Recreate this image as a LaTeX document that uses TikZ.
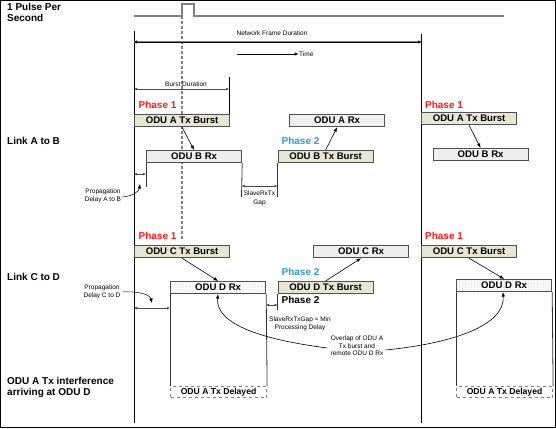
\documentclass[tikz,border=0pt]{standalone}
\usepackage{fontspec}
\setmainfont{Liberation Sans}
\usetikzlibrary{arrows.meta,patterns}
\definecolor{tanfill}{HTML}{E6E6D4}
\definecolor{rxfill}{HTML}{EEEEEE}
\definecolor{boxline}{HTML}{505050}
\definecolor{phred}{HTML}{FF1A1A}
\definecolor{phblue}{HTML}{3399CC}
\definecolor{tgray}{HTML}{808080}
\begin{document}
\begin{tikzpicture}[x=1pt,y=-1pt,
  lbl/.style={font=\fontsize{10}{11.5}\selectfont\bfseries, align=left, inner sep=0pt},
  small/.style={font=\fontsize{6.5}{7.5}\selectfont, align=center, inner sep=0pt, text=black},
  phaseA/.style={font=\fontsize{10}{11}\selectfont\bfseries, text=phred, inner sep=0pt},
  phaseB/.style={font=\fontsize{10}{11}\selectfont\bfseries, text=phblue, inner sep=0pt},
  boxbase/.style={draw=boxline, line width=1.2pt, inner sep=0pt, minimum width=95pt, minimum height=12pt, anchor=north west, font=\fontsize{9.6}{10}\selectfont\bfseries},
  txbox/.style={boxbase, fill=tanfill},
  rxbox/.style={boxbase, fill=rxfill},
  dotbox/.style={boxbase, preaction={fill=white}, pattern=dots, pattern color=gray!80},
  delbox/.style={draw=gray, dashed, line width=1.1pt, inner sep=0pt, minimum width=96pt, minimum height=11pt, anchor=north west, font=\fontsize{8.6}{9}\selectfont\bfseries, text=black},
  arr/.style={-{Latex[length=4.5pt,width=3.5pt]}, line width=0.6pt, black},
  dbl/.style={{Latex[length=3pt,width=3pt]}-{Latex[length=3pt,width=3pt]}, line width=0.9pt, black!70},
  edge/.style={line width=0.8pt, black!80}
]
\useasboundingbox (0,0) rectangle (556,428);
\draw[line width=1.4pt] (0.7,0.7) rectangle (555.3,427.3);

% pulse line
\draw[tgray, line width=1.2pt] (134,16) -- (182,16) -- (182,4) -- (194,4) -- (194,16) -- (504,16);
\coordinate (d0) at (182,16);
\coordinate (d1) at (182,240);
\draw[tgray, line width=1.1pt, dash pattern=on 3pt off 2pt] (d0) -- (d1);

% frame boundaries
\coordinate (f1t) at (134,31);
\coordinate (f1b) at (134,423);
\coordinate (f2t) at (421,34);
\coordinate (f2b) at (421,423);
\draw[line width=0.9pt] (f1t) -- (f1b);
\draw[line width=0.9pt] (f2t) -- (f2b);

% left labels
\node[lbl, anchor=north west] (pps) at (7,3) {1 Pulse Per\\Second};
\node[lbl, anchor=west] (lab) at (7,141) {Link A to B};
\node[lbl, anchor=west] (lcd) at (7,277) {Link C to D};
\node[lbl, anchor=west, font=\fontsize{10}{11}\selectfont\bfseries] (intf) at (7,387.5) {ODU A Tx interference\\arriving at ODU D};

% network frame duration
\node[small] (nfd) at (272,33) {Network Frame Duration};
\coordinate (n1) at (134,42);
\coordinate (n2) at (421,42);
\draw[tgray, line width=1.8pt] (n1) -- (n2);
\draw[{Latex[length=3pt,width=3.5pt]}-{Latex[length=3pt,width=3.5pt]}, line width=0.5pt] (n1) -- (n2);

% time arrow
\node[small, anchor=west] (time) at (299,54) {Time};
\coordinate (t0) at (237,54);
\draw[arr, line width=0.8pt] (t0) -- (time.west);

% burst duration
\coordinate (bd1) at (229,77);
\coordinate (bd2) at (229,114);
\draw[line width=0.8pt] (bd1) -- (bd2);
\coordinate (bda) at (134,89);
\coordinate (bdb) at (229,89);
\draw[dbl] (bda) -- (bdb);
\node[small] (bdl) at (186,84.5) {Burst Duration};

% ===== Link A to B (frame 1)
\node[phaseA] (p1a) at (157.5,105) {Phase 1};
\node[txbox] (atx) at (134,114) {ODU A Tx Burst};
\node[rxbox] (brx) at (146,150) {ODU B Rx};
\draw[arr] (atx.south -| d0) -- (brx.north);
\coordinate (brxl) at (146,187);
\coordinate (brxr) at (241.5,197);
\draw[edge] (brx.south west) -- (brxl);
\draw[edge] (brx.south east) -- (brxr);
\coordinate (pa1) at (134,174);
\coordinate (pa2) at (146,174);
\draw[dbl] (pa1) -- (pa2);
\node[small, font=\fontsize{6.5}{8}\selectfont] (pal) at (103,196) {Propagation\\Delay A to B};
\coordinate (pae) at (140,184);
\draw[arr, line width=0.5pt] (pal.east) ++(1,1) .. controls (134,196) and (139,191) .. (pae);

\node[txbox] (btx) at (277.5,150) {ODU B Tx Burst};
\node[phaseB] (p2a) at (300.5,141) {Phase 2};
\node[rxbox] (arx) at (289,114) {ODU A Rx};
\draw[arr] (btx.north) -- (arx.south);
\coordinate (btxl) at (277.5,197);
\draw[edge] (btx.south west) -- (btxl);
\coordinate (g1) at (241.5,186);
\coordinate (g2) at (277.5,186);
\draw[dbl] (g1) -- (g2);
\node[small, font=\fontsize{6.5}{8.5}\selectfont] (gapl) at (259.5,198.5) {SlaveRxTx\\Gap};

% ===== Link A to B (frame 2)
\node[phaseA] (p1b) at (444,105) {Phase 1};
\node[txbox] (atx2) at (421,112) {ODU A Tx Burst};
\node[rxbox] (brx2) at (432.5,148) {ODU B Rx};
\draw[arr] (atx2.south) -- (brx2.north);

% ===== Link C to D (frame 1)
\node[phaseA] (p1c) at (157.5,236) {Phase 1};
\node[txbox] (ctx) at (134,245) {ODU C Tx Burst};
\node[dotbox] (drx) at (170,281) {ODU D Rx};
\draw[arr] (ctx.south) -- (drx.north);
\node[delbox] (adel) at (170,386) {ODU A Tx Delayed};
\draw[edge] (drx.south west) -- (adel.north west);
\draw[edge] (drx.south east) -- (adel.north east);
\coordinate (pc1) at (134,308);
\coordinate (pc2) at (170,308);
\draw[dbl] (pc1) -- (pc2);
\node[small] (pcl) at (102,292) {Propagation\\Delay C to D};
\coordinate (pce) at (152,303);
\draw[arr, line width=0.5pt] (pcl.east) ++(2,0) .. controls (140,291) and (150,295) .. (pce);

\node[txbox] (dtx) at (277.5,281) {ODU D Tx Burst};
\node[phaseB] (p2c) at (300.5,272) {Phase 2};
\node[lbl, anchor=center] (p2d) at (300.5,300) {Phase 2};
\node[rxbox] (crx) at (313,245) {ODU C Rx};
\draw[arr] (dtx.north) -- (crx.south);
\coordinate (dtxl) at (277.5,310);
\draw[edge] (dtx.south west) -- (dtxl);
\coordinate (h1) at (266,305);
\coordinate (h2) at (277.5,305);
\draw[dbl] (h1) -- (h2);
\node[small] (mpd) at (300,324) {SlaveRxTxGap = Min\\Processing Delay};

% overlap label and curves
\node[small] (ovl) at (357,346) {Overlap of ODU A\\Tx burst and\\remote ODU D Rx};
\coordinate (ov1) at (218,294);
\coordinate (ov2) at (503,292);
\draw[arr] (ovl.west) ++(-3,2) .. controls (265,340) and (215,325) .. (ov1);
\draw[arr] (ovl.east) ++(2,4) .. controls (455,343) and (505,325) .. (ov2);

% ===== Link C to D (frame 2)
\node[phaseA] (p1d) at (444,236) {Phase 1};
\node[txbox] (ctx2) at (421,245) {ODU C Tx Burst};
\node[dotbox] (drx2) at (456,279) {ODU D Rx};
\draw[arr] (ctx2.south) -- (drx2.north);
\node[delbox] (adel2) at (456,386) {ODU A Tx Delayed};
\draw[edge] (drx2.south west) -- (adel2.north west);
\draw[edge] (drx2.south east) -- (adel2.north east);
\end{tikzpicture}
\end{document}
